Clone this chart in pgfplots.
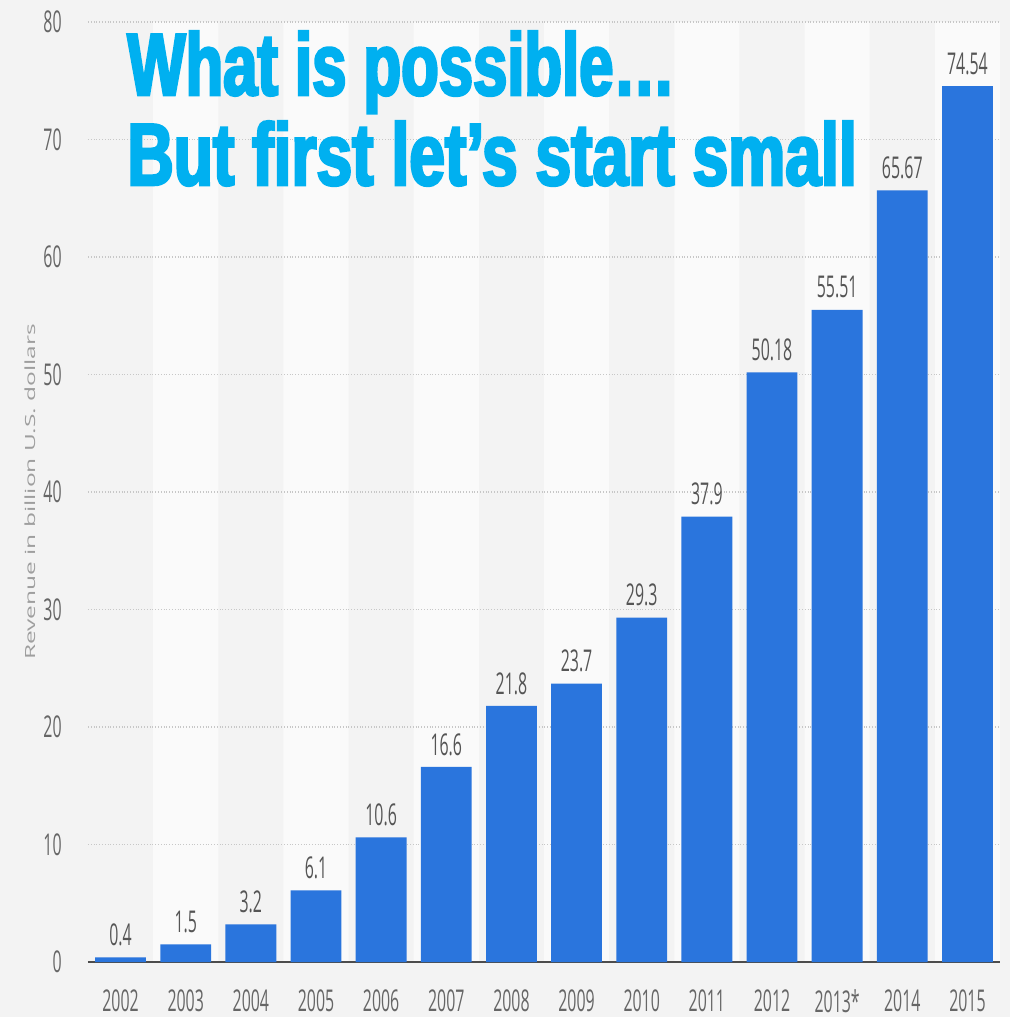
\documentclass[border=0pt]{standalone}
\usepackage{pgfplots}
\pgfplotsset{compat=1.18}
\usepackage{fontspec}
\setmainfont{Open Sans}
\newfontfamily\numfont[FakeStretch=0.53]{Open Sans}
\newfontfamily\labfont[FakeStretch=1.75]{Open Sans}
\newfontfamily\titlefont[FakeStretch=0.70,BoldFeatures={FakeBold=3}]{Liberation Sans}
\newfontfamily\titlefontb[FakeStretch=0.73,BoldFeatures={FakeBold=3}]{Liberation Sans}

\definecolor{bgcol}{HTML}{F3F3F3}
\definecolor{stripe}{HTML}{FAFAFA}
\definecolor{barcol}{HTML}{2A75DD}
\definecolor{titlecol}{HTML}{00B0F0}
\definecolor{tickcol}{HTML}{666666}
\definecolor{valcol}{HTML}{555555}

\begin{document}
\begin{tikzpicture}
% page background
\fill[bgcol] (-44pt,-27.5pt) rectangle (461pt,481pt);

% lighter column stripes
\begin{axis}[
  at={(0,0)}, anchor=south west,
  width=456pt, height=470pt, scale only axis,
  xmin=-0.5, xmax=13.5, ymin=0, ymax=80,
  hide axis
]
  \addplot[ybar, bar width=1, bar shift=0pt, fill=stripe, draw=none]
    coordinates {(1,80) (3,80) (5,80) (7,80) (9,80) (11,80) (13,80)};
\end{axis}

\begin{axis}[
  at={(0,0)}, anchor=south west,
  width=456pt, height=470pt, scale only axis,
  xmin=-0.5, xmax=13.5, ymin=0, ymax=80,
  xtick={0,...,13},
  xticklabels={2002,2003,2004,2005,2006,2007,2008,2009,2010,2011,2012,2013*,2014,2015},
  ytick={0,10,...,80},
  major tick length=0pt,
  axis x line*=bottom, axis y line*=left,
  axis line style={-},
  x axis line style={draw=valcol!90!black, line width=1pt},
  y axis line style={draw=none},
  ymajorgrids,
  grid style={densely dotted, black!22, line width=0.9pt},
  /pgf/number format/assume math mode=true,
  tick label style={font=\numfont\fontsize{15}{15}\selectfont, text=tickcol, inner sep=0pt},
  xticklabel style={anchor=north, yshift=-13.5pt},
  yticklabel style={anchor=east, xshift=-13pt},
  ylabel={Revenue in billion U.S. dollars},
  ylabel style={at={(axis description cs:-0.0636,0.5)}, anchor=center,
    font=\labfont\fontsize{7}{7}\selectfont, text=black!38},
  clip=false,
  point meta=explicit symbolic,
  nodes near coords,
  every node near coord/.append style={font=\numfont\fontsize{15}{15}\selectfont,
    text=valcol, inner sep=0pt, yshift=5.5pt}
]
  \addplot[ybar, bar width=0.78, bar shift=0pt, fill=barcol, draw=none] coordinates {
    (0,0.4) [0.4]
    (1,1.5) [1.5]
    (2,3.2) [3.2]
    (3,6.1) [6.1]
    (4,10.6) [10.6]
    (5,16.6) [16.6]
    (6,21.8) [21.8]
    (7,23.7) [23.7]
    (8,29.3) [29.3]
    (9,37.9) [37.9]
    (10,50.18) [50.18]
    (11,55.51) [55.51]
    (12,65.67) [65.67]
    (13,74.54) [74.54]
  };
\end{axis}

% overlaid title
\node[anchor=base west, inner sep=0pt, text=titlecol,
  font=\titlefont\bfseries\fontsize{44}{44}\selectfont] at (19.5pt,433.5pt) {What is possible…};
\node[anchor=base west, inner sep=0pt, text=titlecol,
  font=\titlefontb\bfseries\fontsize{44}{44}\selectfont] at (19.5pt,388.5pt) {But first let’s start small};
\end{tikzpicture}
\end{document}
